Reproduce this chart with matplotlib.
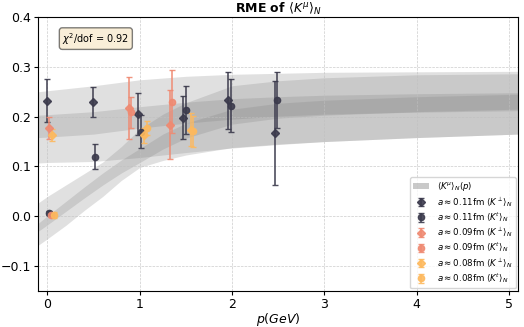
import matplotlib
matplotlib.use("Agg")
import matplotlib.pyplot as plt
from matplotlib.patches import Patch

# ---- fit bands ----
pA = [-0.1, 0.0, 0.5, 1.0, 1.5, 2.0, 2.5, 3.0, 4.0, 5.1]
A_out_lo = [0.107, 0.108, 0.110, 0.118, 0.128, 0.137, 0.144, 0.150, 0.158, 0.165]
A_out_hi = [0.250, 0.252, 0.262, 0.274, 0.281, 0.285, 0.287, 0.289, 0.290, 0.291]
A_in_lo = [0.158, 0.159, 0.165, 0.177, 0.187, 0.195, 0.201, 0.205, 0.209, 0.212]
A_in_hi = [0.203, 0.204, 0.210, 0.220, 0.229, 0.236, 0.240, 0.243, 0.246, 0.248]

pB = [-0.1, 0.0, 0.2, 0.4, 0.6, 0.8, 1.0, 1.25, 1.5, 2.0, 2.5, 3.0, 4.0, 5.1]
B_out_lo = [-0.058, -0.045, -0.018, 0.012, 0.040, 0.072, 0.098, 0.112, 0.123, 0.138, 0.145, 0.150, 0.158, 0.165]
B_out_hi = [0.027, 0.040, 0.063, 0.086, 0.109, 0.140, 0.175, 0.205, 0.228, 0.262, 0.272, 0.278, 0.284, 0.286]
B_in_lo = [-0.030, -0.017, 0.010, 0.037, 0.063, 0.087, 0.108, 0.135, 0.157, 0.185, 0.197, 0.203, 0.210, 0.215]
B_in_hi = [-0.014, 0.001, 0.030, 0.059, 0.087, 0.113, 0.136, 0.165, 0.187, 0.215, 0.227, 0.233, 0.240, 0.245]

# ---- data points ----
# a ~ 0.11 fm
p11_perp = [0.00, 0.49, 0.98, 1.47, 1.96, 2.46]
v11_perp = [0.232, 0.229, 0.205, 0.198, 0.233, 0.167]
e11_perp = [0.043, 0.030, 0.042, 0.043, 0.057, 0.104]
p11_t = [0.02, 0.52, 1.01, 1.50, 1.99, 2.49]
v11_t = [0.006, 0.120, 0.170, 0.214, 0.222, 0.234]
e11_t = [0.004, 0.025, 0.033, 0.048, 0.053, 0.056]
# a ~ 0.09 fm
p09_perp = [0.02, 0.88, 1.33]
v09_perp = [0.177, 0.218, 0.184]
e09_perp = [0.022, 0.062, 0.070]
p09_t = [0.04, 0.91, 1.35]
v09_t = [0.003, 0.209, 0.230]
e09_t = [0.004, 0.031, 0.063]
# a ~ 0.08 fm
p08_perp = [0.05, 1.05, 1.55]
v08_perp = [0.163, 0.163, 0.174]
e08_perp = [0.012, 0.015, 0.033]
p08_t = [0.07, 1.08, 1.58]
v08_t = [0.002, 0.178, 0.171]
e08_t = [0.006, 0.014, 0.031]

c11 = "#3b3a4c"
c09 = "#ef8a72"
c08 = "#fdb95e"

fig = plt.figure(figsize=(5.24, 3.27), dpi=100)
ax = fig.add_axes([0.073, 0.110, 0.916, 0.838])

band_kw = dict(color="gray", alpha=0.24, linewidth=0)
ax.fill_between(pA, A_out_lo, A_out_hi, **band_kw)
ax.fill_between(pA, A_in_lo, A_in_hi, **band_kw)
ax.fill_between(pB, B_out_lo, B_out_hi, **band_kw)
ax.fill_between(pB, B_in_lo, B_in_hi, **band_kw)

eb_kw = dict(ls="none", ms=4.5, capsize=2.5, elinewidth=1.2, capthick=1.0, alpha=0.9)
h1 = ax.errorbar(p11_perp, v11_perp, yerr=e11_perp, fmt="D", color=c11, **eb_kw)
h2 = ax.errorbar(p11_t, v11_t, yerr=e11_t, fmt="o", color=c11, **eb_kw)
h3 = ax.errorbar(p09_perp, v09_perp, yerr=e09_perp, fmt="D", color=c09, **eb_kw)
h4 = ax.errorbar(p09_t, v09_t, yerr=e09_t, fmt="o", color=c09, **eb_kw)
h5 = ax.errorbar(p08_perp, v08_perp, yerr=e08_perp, fmt="D", color=c08, **eb_kw)
h6 = ax.errorbar(p08_t, v08_t, yerr=e08_t, fmt="o", color=c08, **eb_kw)

band_handle = Patch(facecolor="gray", alpha=0.42, edgecolor="none")
handles = [band_handle, h1, h2, h3, h4, h5, h6]
labels = [r"$\langle K^{\mu}\rangle_N(p)$",
          r"$a\approx0.11$fm $\langle K^{\perp}\rangle_N$",
          r"$a\approx0.11$fm $\langle K^{t}\rangle_N$",
          r"$a\approx0.09$fm $\langle K^{\perp}\rangle_N$",
          r"$a\approx0.09$fm $\langle K^{t}\rangle_N$",
          r"$a\approx0.08$fm $\langle K^{\perp}\rangle_N$",
          r"$a\approx0.08$fm $\langle K^{t}\rangle_N$"]
ax.legend(handles, labels, loc="lower right", fontsize=6.2, framealpha=0.8,
          labelspacing=0.22, handlelength=1.8, borderpad=0.4, handletextpad=0.9,
          borderaxespad=0.3)

ax.set_xlim(-0.1, 5.1)
ax.set_ylim(-0.15, 0.4)
ax.set_xticks([0, 1, 2, 3, 4, 5])
ax.set_yticks([-0.1, 0.0, 0.1, 0.2, 0.3, 0.4])
ax.tick_params(labelsize=9, length=3, pad=2)
ax.set_axisbelow("line")
ax.grid(True, ls="--", lw=0.5, color="#c0c0c0", alpha=0.8)

ax.set_xlabel(r"$p(GeV)$", fontsize=9, labelpad=0)
ax.set_title(r"RME of $\langle K^{\mu}\rangle_N$", fontsize=9, fontweight="bold", pad=2)

ax.text(0.05, 0.95, r"$\chi^2$/dof = 0.92", transform=ax.transAxes, fontsize=7,
        va="top", bbox=dict(boxstyle="round", facecolor="wheat", alpha=0.5))

fig.savefig("out.png", dpi=100)
